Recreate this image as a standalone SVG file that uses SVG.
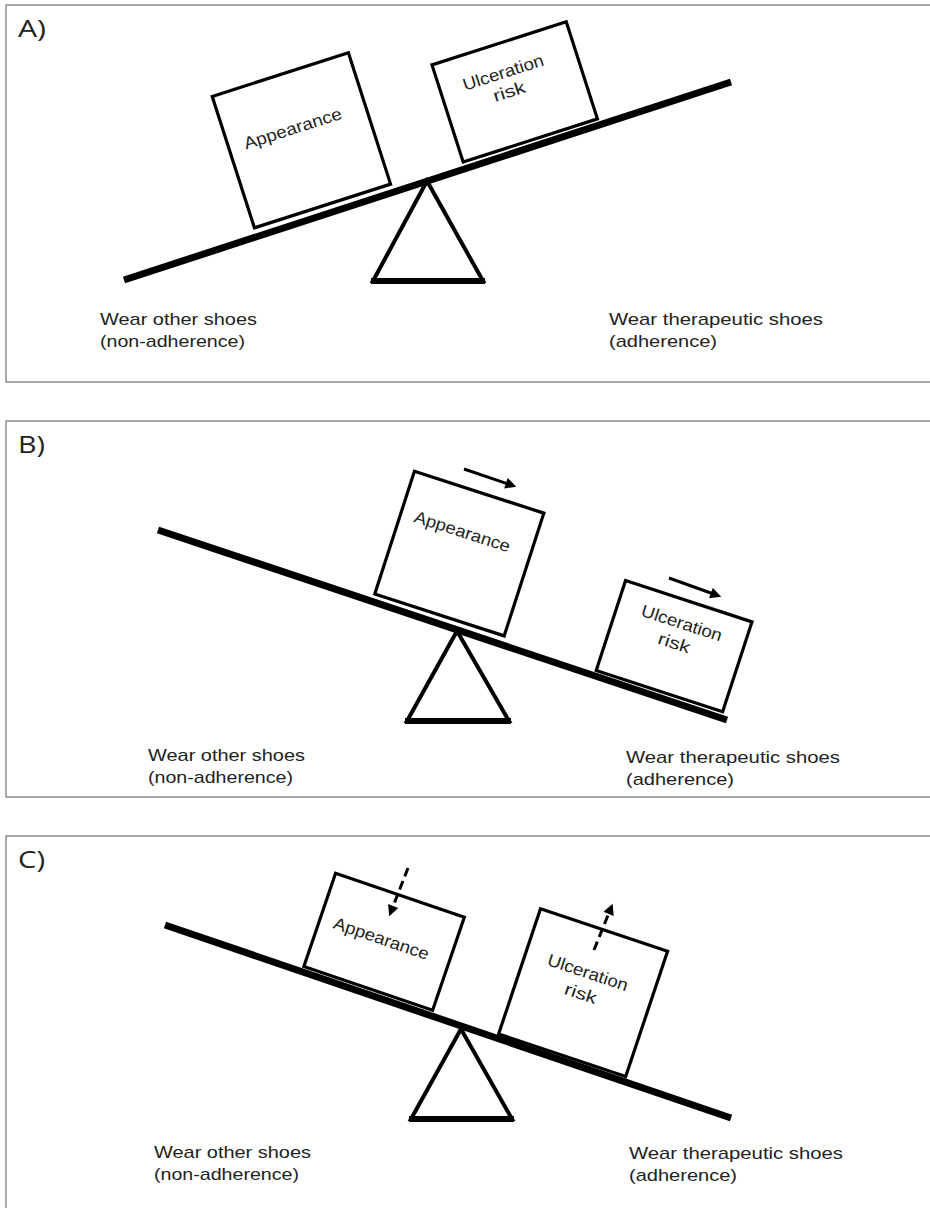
<svg xmlns="http://www.w3.org/2000/svg" width="930" height="1208" viewBox="0 0 930 1208">
<style>
.frame{fill:none;stroke:#8c8c8c;stroke-width:1.5}
.beam{stroke:#000;stroke-width:7;stroke-linecap:butt}
.fulc{fill:#fff;stroke:#000;stroke-width:4;stroke-linejoin:miter}
.fbase{stroke:#000;stroke-width:6}
.box{fill:#fff;stroke:#000;stroke-width:3.2}
.panel{font-family:"Open Sans","Liberation Sans",sans-serif;font-size:24px;fill:#222}
.lbl{font-family:"Liberation Sans",Arial,sans-serif;font-size:17px;fill:#222}
.bt{font-family:"Liberation Sans",Arial,sans-serif;font-size:17px;fill:#222;text-anchor:middle}
.arr{stroke:#000;stroke-width:3;fill:none}
.dash{stroke:#000;stroke-width:3;fill:none;stroke-dasharray:9 5}
</style>
<defs>
<marker id="ah" viewBox="0 0 10 10" refX="2.5" refY="5" markerWidth="12" markerHeight="11" markerUnits="userSpaceOnUse" orient="auto"><path d="M0,0 L10,5 L0,10 z" fill="#000"/></marker>
</defs>

<!-- Panel A -->
<g id="panelA">
<rect class="frame" x="6" y="5" width="940" height="377"/>
<text class="panel" x="18" y="37" textLength="28" lengthAdjust="spacingAndGlyphs">A)</text>
<g id="A-fulcrum"><polygon class="fulc" points="427,181 373,281 483,281"/><line class="fbase" x1="371" y1="281" x2="485" y2="281"/></g>
<g id="A-beam"><line class="beam" x1="124" y1="280" x2="731" y2="82"/></g>
<g id="A-appearance"><rect class="box" x="-71.5" y="-69" width="143" height="138" transform="translate(301.4,140.3) rotate(-17.8)"/>
<text class="bt" textLength="102" lengthAdjust="spacingAndGlyphs" transform="translate(294.5,134) rotate(-17.8)">Appearance</text></g>
<g id="A-ulceration"><rect class="box" x="-70.5" y="-51" width="141" height="102" transform="translate(514.7,91.9) rotate(-17.8)"/>
<text class="bt" textLength="84" lengthAdjust="spacingAndGlyphs" transform="translate(505,78) rotate(-17.8)">Ulceration</text>
<text class="bt" textLength="33" lengthAdjust="spacingAndGlyphs" transform="translate(511,97) rotate(-17.8)">risk</text></g>
<g id="A-left"><text class="lbl" x="100" y="325" textLength="157" lengthAdjust="spacingAndGlyphs">Wear other shoes</text><text class="lbl" x="100" y="347" textLength="145" lengthAdjust="spacingAndGlyphs">(non-adherence)</text></g>
<g id="A-right"><text class="lbl" x="609" y="325" textLength="214" lengthAdjust="spacingAndGlyphs">Wear therapeutic shoes</text><text class="lbl" x="609" y="347" textLength="108" lengthAdjust="spacingAndGlyphs">(adherence)</text></g>
</g>

<!-- Panel B -->
<g id="panelB">
<rect class="frame" x="6" y="421" width="940" height="376"/>
<text class="panel" x="18" y="453" textLength="27" lengthAdjust="spacingAndGlyphs">B)</text>
<g id="B-fulcrum"><polygon class="fulc" points="457,631 407,721 509,721"/><line class="fbase" x1="405" y1="721" x2="511" y2="721"/></g>
<g id="B-beam"><line class="beam" x1="158" y1="530" x2="727" y2="720"/></g>
<g id="B-appearance"><rect class="box" x="-68" y="-64.5" width="136" height="129" transform="translate(459.3,553.6) rotate(17.9)"/>
<text class="bt" textLength="100" lengthAdjust="spacingAndGlyphs" transform="translate(460.5,537) rotate(17.9)">Appearance</text></g>
<g id="B-ulceration"><rect class="box" x="-66.5" y="-47.2" width="133" height="94.5" transform="translate(674.1,646.1) rotate(18.1)"/>
<text class="bt" textLength="84" lengthAdjust="spacingAndGlyphs" transform="translate(680,628.5) rotate(18.1)">Ulceration</text>
<text class="bt" textLength="33" lengthAdjust="spacingAndGlyphs" transform="translate(672.5,648.5) rotate(18.1)">risk</text></g>
<g id="B-left"><text class="lbl" x="148" y="761" textLength="157" lengthAdjust="spacingAndGlyphs">Wear other shoes</text><text class="lbl" x="148" y="783" textLength="145" lengthAdjust="spacingAndGlyphs">(non-adherence)</text></g>
<g id="B-right"><text class="lbl" x="626" y="763" textLength="214" lengthAdjust="spacingAndGlyphs">Wear therapeutic shoes</text><text class="lbl" x="626" y="785" textLength="108" lengthAdjust="spacingAndGlyphs">(adherence)</text></g>
</g>

<!-- Panel C -->
<g id="panelC">
<rect class="frame" x="6" y="836" width="940" height="400"/>
<text class="panel" x="18" y="868" textLength="27" lengthAdjust="spacingAndGlyphs">C)</text>
<g id="C-fulcrum"><polygon class="fulc" points="461,1029 411,1119 512,1119"/><line class="fbase" x1="409" y1="1119" x2="514" y2="1119"/></g>
<g id="C-beam"><line class="beam" x1="165" y1="925" x2="731" y2="1118"/></g>
<g id="C-appearance"><rect class="box" x="-68" y="-49.2" width="136" height="98.4" transform="translate(384.1,941.8) rotate(18.8)"/>
<text class="bt" textLength="100" lengthAdjust="spacingAndGlyphs" transform="translate(379.5,944) rotate(18.8)">Appearance</text></g>
<g id="C-ulceration"><rect class="box" x="-67" y="-66" width="134" height="132" transform="translate(583.1,992.6) rotate(18.5)"/>
<text class="bt" textLength="84" lengthAdjust="spacingAndGlyphs" transform="translate(586,978) rotate(18.5)">Ulceration</text>
<text class="bt" textLength="33" lengthAdjust="spacingAndGlyphs" transform="translate(579,999) rotate(18.5)">risk</text></g>
<g id="C-left"><text class="lbl" x="154" y="1158" textLength="157" lengthAdjust="spacingAndGlyphs">Wear other shoes</text><text class="lbl" x="154" y="1180" textLength="145" lengthAdjust="spacingAndGlyphs">(non-adherence)</text></g>
<g id="C-right"><text class="lbl" x="629" y="1159" textLength="214" lengthAdjust="spacingAndGlyphs">Wear therapeutic shoes</text><text class="lbl" x="629" y="1181" textLength="108" lengthAdjust="spacingAndGlyphs">(adherence)</text></g>
</g>

<!-- Connectors (arrows) -->
<g id="connectors">
<line class="arr" x1="464" y1="469" x2="508.5" y2="484.1" marker-end="url(#ah)"/>
<line class="arr" x1="669" y1="578" x2="713.5" y2="594" marker-end="url(#ah)"/>
<line class="dash" x1="408" y1="868" x2="392.2" y2="908.6" marker-end="url(#ah)"/>
<line class="dash" x1="594" y1="950" x2="609.6" y2="911.3" marker-end="url(#ah)"/>
</g>
</svg>
